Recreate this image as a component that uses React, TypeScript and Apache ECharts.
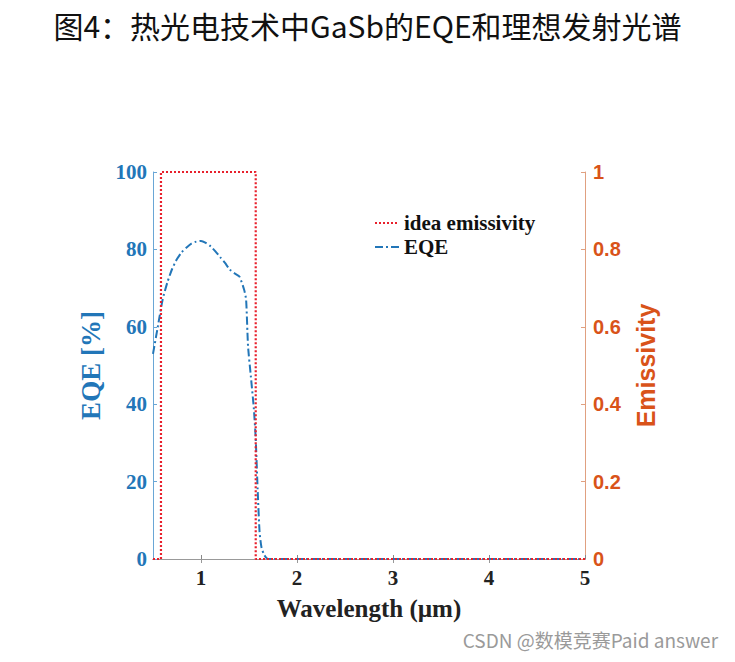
import React, { useEffect, useRef } from "react";
import * as echarts from "echarts";

const titleText = "图4：热光电技术中GaSb的EQE和理想发射光谱";
const watermarkText = "CSDN @数模竞赛Paid answer";

const xTicks = [1, 2, 3, 4, 5];

// EQE (%) vs wavelength (µm)
const eqeX = [0.5, 0.55, 0.6, 0.65, 0.7, 0.75, 0.8, 0.85, 0.9, 0.95, 1.0, 1.05, 1.1, 1.15, 1.2, 1.25, 1.3, 1.35, 1.4, 1.45, 1.47, 1.49, 1.52, 1.55, 1.57, 1.59, 1.61, 1.63, 1.66, 1.7, 2, 3, 4, 5];
const eqeY = [53, 60, 67, 71.5, 75, 77.5, 79.3, 80.5, 81.5, 82, 82.2, 81.7, 80.8, 79.5, 78, 76.5, 74.8, 73.8, 73, 69.5, 67, 55, 47, 39, 31, 18, 7, 3, 1, 0, 0, 0, 0, 0];

// ideal emissivity step
const emisX = [0.5, 0.583, 0.583, 1.57, 1.57, 5];
const emisY = [0, 0, 1, 1, 0, 0];

const blue = "#2276b8";
const orange = "#d95319";
const red = "#e8202c";

export default function App() {
  const ref = useRef<HTMLDivElement>(null);
  useEffect(() => {
    document.body.style.margin = "0";
    const chart = echarts.init(ref.current!, null, { renderer: "svg" });
    const serif = "Liberation Serif";
    chart.setOption({
      animation: false,
      backgroundColor: "#ffffff",
      title: {
        text: titleText,
        left: "center",
        top: 5,
        textStyle: { fontFamily: "Noto Sans CJK SC", fontWeight: "normal", fontSize: 30, color: "#111" },
      },
      legend: {
        orient: "vertical",
        left: 369,
        top: 207,
        itemWidth: 24,
        itemHeight: 10,
        itemGap: 2,
        itemStyle: { opacity: 0 },
        textStyle: { fontFamily: serif, fontWeight: "bold", fontSize: 21, color: "#111", lineHeight: 22 },
        data: ["idea emissivity", "EQE"],
      },
      grid: { left: 153, right: 150, top: 172, bottom: 103, containLabel: false },
      xAxis: [
        {
          type: "value",
          min: 0.5,
          max: 5,
          name: "Wavelength (µm)",
          nameLocation: "middle",
          nameGap: 37,
          nameTextStyle: { fontFamily: serif, fontWeight: "bold", fontSize: 25, color: "#222" },
          axisLine: { show: true, lineStyle: { color: "#888", width: 1 } },
          axisTick: { show: true, inside: true, length: 4, customValues: xTicks, lineStyle: { color: "#888" } },
          axisLabel: { customValues: xTicks, margin: 8, fontFamily: serif, fontWeight: "bold", fontSize: 21, color: "#222" },
          splitLine: { show: false },
        },
        {
          type: "value",
          position: "top",
          min: 0.5,
          max: 5,
          axisLine: { show: true, lineStyle: { color: "#999", width: 1 } },
          axisTick: { show: true, inside: true, length: 4, customValues: [1, 2, 3, 4], lineStyle: { color: "#999" } },
          axisLabel: { show: false },
          splitLine: { show: false },
        },
      ],
      yAxis: [
        {
          type: "value",
          min: 0,
          max: 100,
          interval: 20,
          name: "EQE [%]",
          nameLocation: "middle",
          nameRotate: 90,
          nameGap: 45,
          nameTextStyle: { fontFamily: serif, fontWeight: "bold", fontSize: 27, color: blue },
          axisLine: { show: true, lineStyle: { color: "#6aa6d6", width: 1 } },
          axisTick: { show: true, inside: true, length: 4, lineStyle: { color: "#6aa6d6" } },
          axisLabel: { margin: 6, fontFamily: serif, fontWeight: "bold", fontSize: 21, color: blue },
          splitLine: { show: false },
        },
        {
          type: "value",
          min: 0,
          max: 1,
          interval: 0.2,
          position: "right",
          name: "Emissivity",
          nameLocation: "middle",
          nameRotate: 90,
          nameGap: 48,
          nameTextStyle: { fontFamily: "Liberation Sans", fontWeight: "bold", fontSize: 25, color: orange },
          axisLine: { show: true, lineStyle: { color: "#e0a080", width: 1 } },
          axisTick: { show: true, inside: true, length: 4, lineStyle: { color: "#e0a080" } },
          axisLabel: {
            margin: 8,
            fontFamily: "Liberation Sans",
            fontWeight: "bold",
            fontSize: 20,
            color: orange,
            formatter: (v: number) => String(Math.round(v * 10) / 10),
          },
          splitLine: { show: false },
        },
      ],
      series: [
        {
          name: "idea emissivity",
          type: "line",
          xAxisIndex: 0,
          yAxisIndex: 1,
          symbol: "none",
          data: emisX.map((x, i) => [x, emisY[i]]),
          lineStyle: { color: red, width: 2.2, type: [2, 2] },
          itemStyle: { color: red },
          z: 3,
        },
        {
          name: "EQE",
          type: "line",
          xAxisIndex: 0,
          yAxisIndex: 0,
          symbol: "none",
          smooth: 0.2,
          data: eqeX.map((x, i) => [x, eqeY[i]]),
          lineStyle: { color: blue, width: 2, type: [8, 3, 2, 3] },
          itemStyle: { color: blue },
          z: 2,
        },
      ],
      graphic: [
        {
          type: "text",
          right: 17,
          top: 630,
          style: {
            text: watermarkText,
            fontFamily: "Noto Sans CJK SC",
            fontSize: 19,
            fill: "#9a9a9a",
          },
        },
      ],
    });
    return () => chart.dispose();
  }, []);
  return <div ref={ref} style={{ width: 735, height: 662 }} />;
}
